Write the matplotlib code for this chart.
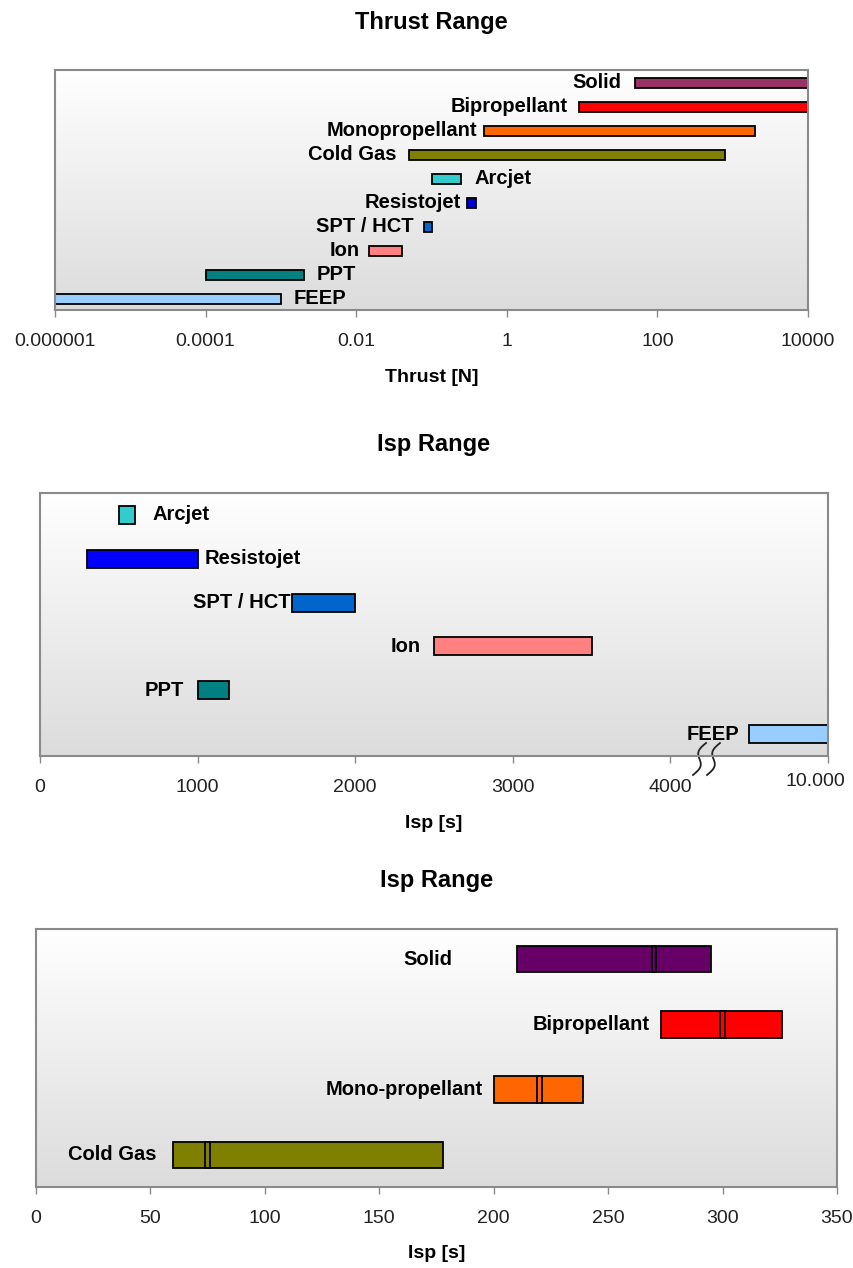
import numpy as np
import matplotlib
matplotlib.use('Agg')
import matplotlib.pyplot as plt
from matplotlib.colors import LinearSegmentedColormap

plt.rcParams['font.family'] = ['Liberation Sans', 'DejaVu Sans']

# --- thrust ranges [N], bottom row first ---
thrust_names = ['FEEP', 'PPT', 'Ion', 'SPT / HCT', 'Resistojet', 'Arcjet',
                'Cold Gas', 'Monopropellant', 'Bipropellant', 'Solid']
thrust_min = [1e-6, 1e-4, 0.015, 0.08, 0.3, 0.1, 0.05, 0.5, 9, 50]
thrust_max = [1e-3, 2e-3, 0.04, 0.1, 0.39, 0.25, 800, 2000, 1e4, 1e4]
thrust_colors = ['#99CCFF', '#008080', '#FF8080', '#0066CC', '#0000CC', '#33CCCC',
                 '#808000', '#FF6600', '#FF0000', '#993366']
thrust_side = ['right', 'right', 'left', 'left', 'left', 'right',
               'left', 'left', 'left', 'left']
thrust_gap = [13, 13, 10, 11, 7, 13, 12, 7, 11, 13]
thrust_ticks = [1e-6, 1e-4, 1e-2, 1, 100, 1e4]
thrust_ticklabels = ['0.000001', '0.0001', '0.01', '1', '100', '10000']

# --- electric propulsion Isp [s] ---
ep_names = ['FEEP', 'PPT', 'Ion', 'SPT / HCT', 'Resistojet', 'Arcjet']
ep_min = [7000, 1000, 2500, 1600, 300, 500]
ep_max = [10000, 1200, 3500, 2000, 1000, 600]
ep_colors = ['#99CCFF', '#008080', '#FF8080', '#0066CC', '#0000FF', '#33CCCC']
ep_side = ['left', 'left', 'left', 'left', 'right', 'right']
ep_gap = [10, 14, 13, 2, 7, 18]
ep_ticks = [0, 1000, 2000, 3000, 4000, 10000]
ep_ticklabels = ['0', '1000', '2000', '3000', '4000', '']
ep_break = 4000

# --- chemical propulsion Isp [s] ---
chem_names = ['Cold Gas', 'Mono-propellant', 'Bipropellant', 'Solid']
chem_min = [60, 200, 273, 210]
chem_max = [178, 239, 326, 295]
chem_typ = [75, 220, 300, 270]
chem_colors = ['#808000', '#FF6600', '#FF0000', '#660066']
chem_gap = [17, 11, 11, 64]
chem_ticks = [0, 50, 100, 150, 200, 250, 300, 350]

W, H = 854, 1268
fig = plt.figure(figsize=(W / 100, H / 100), dpi=100)

grad = LinearSegmentedColormap.from_list('bg', ['#dcdcdc', '#ffffff'])
frame_col = '#8a8a8a'
label_size = 14.5


def make_axes(left, top, right, bottom):
    rect = [left / W, 1 - bottom / H, (right - left) / W, (bottom - top) / H]
    bg = fig.add_axes(rect, zorder=0)
    bg.imshow(np.linspace(0, 1, 256).reshape(-1, 1)[::-1], cmap=grad,
              aspect='auto', extent=(0, 1, 0, 1), origin='upper')
    bg.axis('off')
    ax = fig.add_axes(rect, zorder=1)
    ax.patch.set_visible(False)
    for s in ax.spines.values():
        s.set_color(frame_col)
        s.set_linewidth(1.5)
    ax.set_yticks([])
    ax.tick_params(axis='x', direction='out', length=5, width=1, color=frame_col,
                   labelsize=14, labelcolor='#222222', pad=11.5)
    return ax, (right - left), (bottom - top)


def title_and_label(ax, title, xlabel):
    ax.annotate(title, (0.5, 1), xycoords='axes fraction', xytext=(0, 48 * 0.72),
                textcoords='offset points', ha='center', va='center',
                fontsize=17, fontweight='bold')
    ax.annotate(xlabel, (0.5, 0), xycoords='axes fraction', xytext=(0, -67 * 0.72),
                textcoords='offset points', ha='center', va='center',
                fontsize=14, fontweight='bold')


def bar_labels(ax, names, lo, hi, ys, sides, gaps):
    for name, a, b, y, side, g in zip(names, lo, hi, ys, sides, gaps):
        if side == 'left':
            ax.annotate(name, (a, y), xytext=(-g * 0.72, 0), textcoords='offset points',
                        ha='right', va='center', fontsize=label_size, fontweight='bold')
        else:
            ax.annotate(name, (b, y), xytext=(g * 0.72, 0), textcoords='offset points',
                        ha='left', va='center', fontsize=label_size, fontweight='bold')


# Thrust range (log axis)
ax1, w1, h1 = make_axes(55, 70, 808, 310)
ax1.set_xscale('log')
y1 = np.arange(len(thrust_names))
ax1.barh(y1, np.array(thrust_max) - np.array(thrust_min), left=thrust_min, height=0.42,
         color=thrust_colors, edgecolor='black', linewidth=1.3)
ax1.set_xlim(1e-6, 1e4)
ax1.set_ylim(-0.46, 9.54)
ax1.set_xticks(thrust_ticks)
ax1.set_xticklabels(thrust_ticklabels)
ax1.minorticks_off()
bar_labels(ax1, thrust_names, thrust_min, thrust_max, y1, thrust_side, thrust_gap)
title_and_label(ax1, 'Thrust Range', 'Thrust [N]')


# Electric propulsion Isp, axis compressed above the break
def fwd(x):
    x = np.asarray(x, dtype=float)
    return np.where(x <= ep_break, x, ep_break + (x - ep_break) / 6)


def inv(x):
    x = np.asarray(x, dtype=float)
    return np.where(x <= ep_break, x, ep_break + (x - ep_break) * 6)


ax2, w2, h2 = make_axes(40, 493, 828, 756)
ax2.set_xscale('function', functions=(fwd, inv))
y2 = np.arange(len(ep_names))
ax2.barh(y2, np.array(ep_max) - np.array(ep_min), left=ep_min, height=0.41,
         color=ep_colors, edgecolor='black', linewidth=1.3)
ax2.set_xlim(0, 10000)
ax2.set_ylim(-0.5, 5.5)
ax2.set_xticks(ep_ticks)
ax2.set_xticklabels(ep_ticklabels)
ax2.minorticks_off()
ax2.annotate('10.000', (10000, 0), xycoords=('data', 'axes fraction'),
             xytext=(-13 * 0.72, -25 * 0.72), textcoords='offset points',
             ha='center', va='center', fontsize=14, color='#222222')
bar_labels(ax2, ep_names, ep_min, ep_max, y2, ep_side, ep_gap)
title_and_label(ax2, 'Isp Range', 'Isp [s]')

# axis break marks
s = np.linspace(0, 1, 60)
for x0 in (706, 720):
    xs = (x0 - 40 - 13 * s - 4 * np.sin(2 * np.pi * s)) / w2
    ys = (756 - 743 - 32 * s) / h2
    ax2.plot(xs, ys, transform=ax2.transAxes, color='#222222', lw=1.3, clip_on=False)

# Chemical propulsion Isp
ax3, w3, h3 = make_axes(36, 929, 837, 1187)
y3 = np.arange(len(chem_names))
ax3.barh(y3, np.array(chem_max) - np.array(chem_min), left=chem_min, height=0.41,
         color=chem_colors, edgecolor='black', linewidth=1.3)
ax3.barh(y3, 2, left=np.array(chem_typ) - 1, height=0.41,
         color=chem_colors, edgecolor='black', linewidth=1.3)
ax3.set_xlim(0, 350)
ax3.set_ylim(-0.49, 3.46)
ax3.set_xticks(chem_ticks)
bar_labels(ax3, chem_names, chem_min, chem_max, y3, ['left'] * 4, chem_gap)
title_and_label(ax3, 'Isp Range', 'Isp [s]')

fig.savefig('out.png', dpi=100)
